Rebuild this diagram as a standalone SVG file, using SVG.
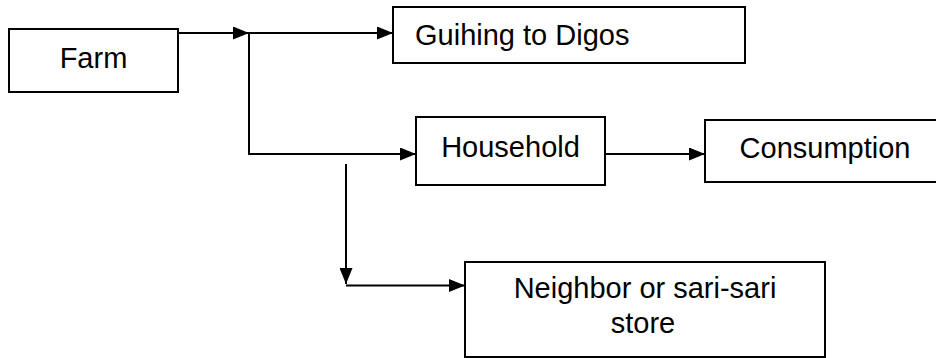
<svg xmlns="http://www.w3.org/2000/svg" width="936" height="358" viewBox="0 0 936 358">
<style>
.box{fill:#fff;stroke:#000;stroke-width:2}
.lbl{font-family:"Liberation Sans",Arial,sans-serif;font-size:29px;fill:#000}
.ln{fill:none;stroke:#000;stroke-width:2}
</style>
<defs>
<marker id="ah" viewBox="0 0 16 13" refX="16" refY="6.5" markerWidth="16" markerHeight="13" markerUnits="userSpaceOnUse" orient="auto">
<path d="M0,0 L16,6.5 L0,13 Z" fill="#000"/>
</marker>
</defs>
<rect width="936" height="358" fill="#fff"/>
<g id="connectors">
<line class="ln" x1="178" y1="33" x2="249" y2="33" marker-end="url(#ah)"/>
<line class="ln" x1="249" y1="33" x2="393" y2="33" marker-end="url(#ah)"/>
<polyline class="ln" points="249,33 249,154 416,154" marker-end="url(#ah)"/>
<line class="ln" x1="605" y1="154" x2="705" y2="154" marker-end="url(#ah)"/>
<line class="ln" x1="346" y1="164" x2="346" y2="284" marker-end="url(#ah)"/>
<line class="ln" x1="346" y1="285.5" x2="465" y2="285.5" marker-end="url(#ah)"/>
</g>
<g id="farm">
<rect class="box" x="9" y="29" width="169" height="63"/>
<text class="lbl" x="93.5" y="68" text-anchor="middle">Farm</text>
</g>
<g id="guihing">
<rect class="box" x="393" y="7" width="352" height="56"/>
<text class="lbl" x="415" y="45">Guihing to Digos</text>
</g>
<g id="household">
<rect class="box" x="416" y="117" width="189" height="68"/>
<text class="lbl" x="510.5" y="157" text-anchor="middle">Household</text>
</g>
<g id="consumption">
<rect class="box" x="705" y="120" width="240" height="62"/>
<text class="lbl" x="825" y="158" text-anchor="middle">Consumption</text>
</g>
<g id="neighbor">
<rect class="box" x="465" y="262" width="360" height="95"/>
<text class="lbl" x="645" y="298" text-anchor="middle">Neighbor or sari-sari</text>
<text class="lbl" x="643" y="333" text-anchor="middle">store</text>
</g>
</svg>
